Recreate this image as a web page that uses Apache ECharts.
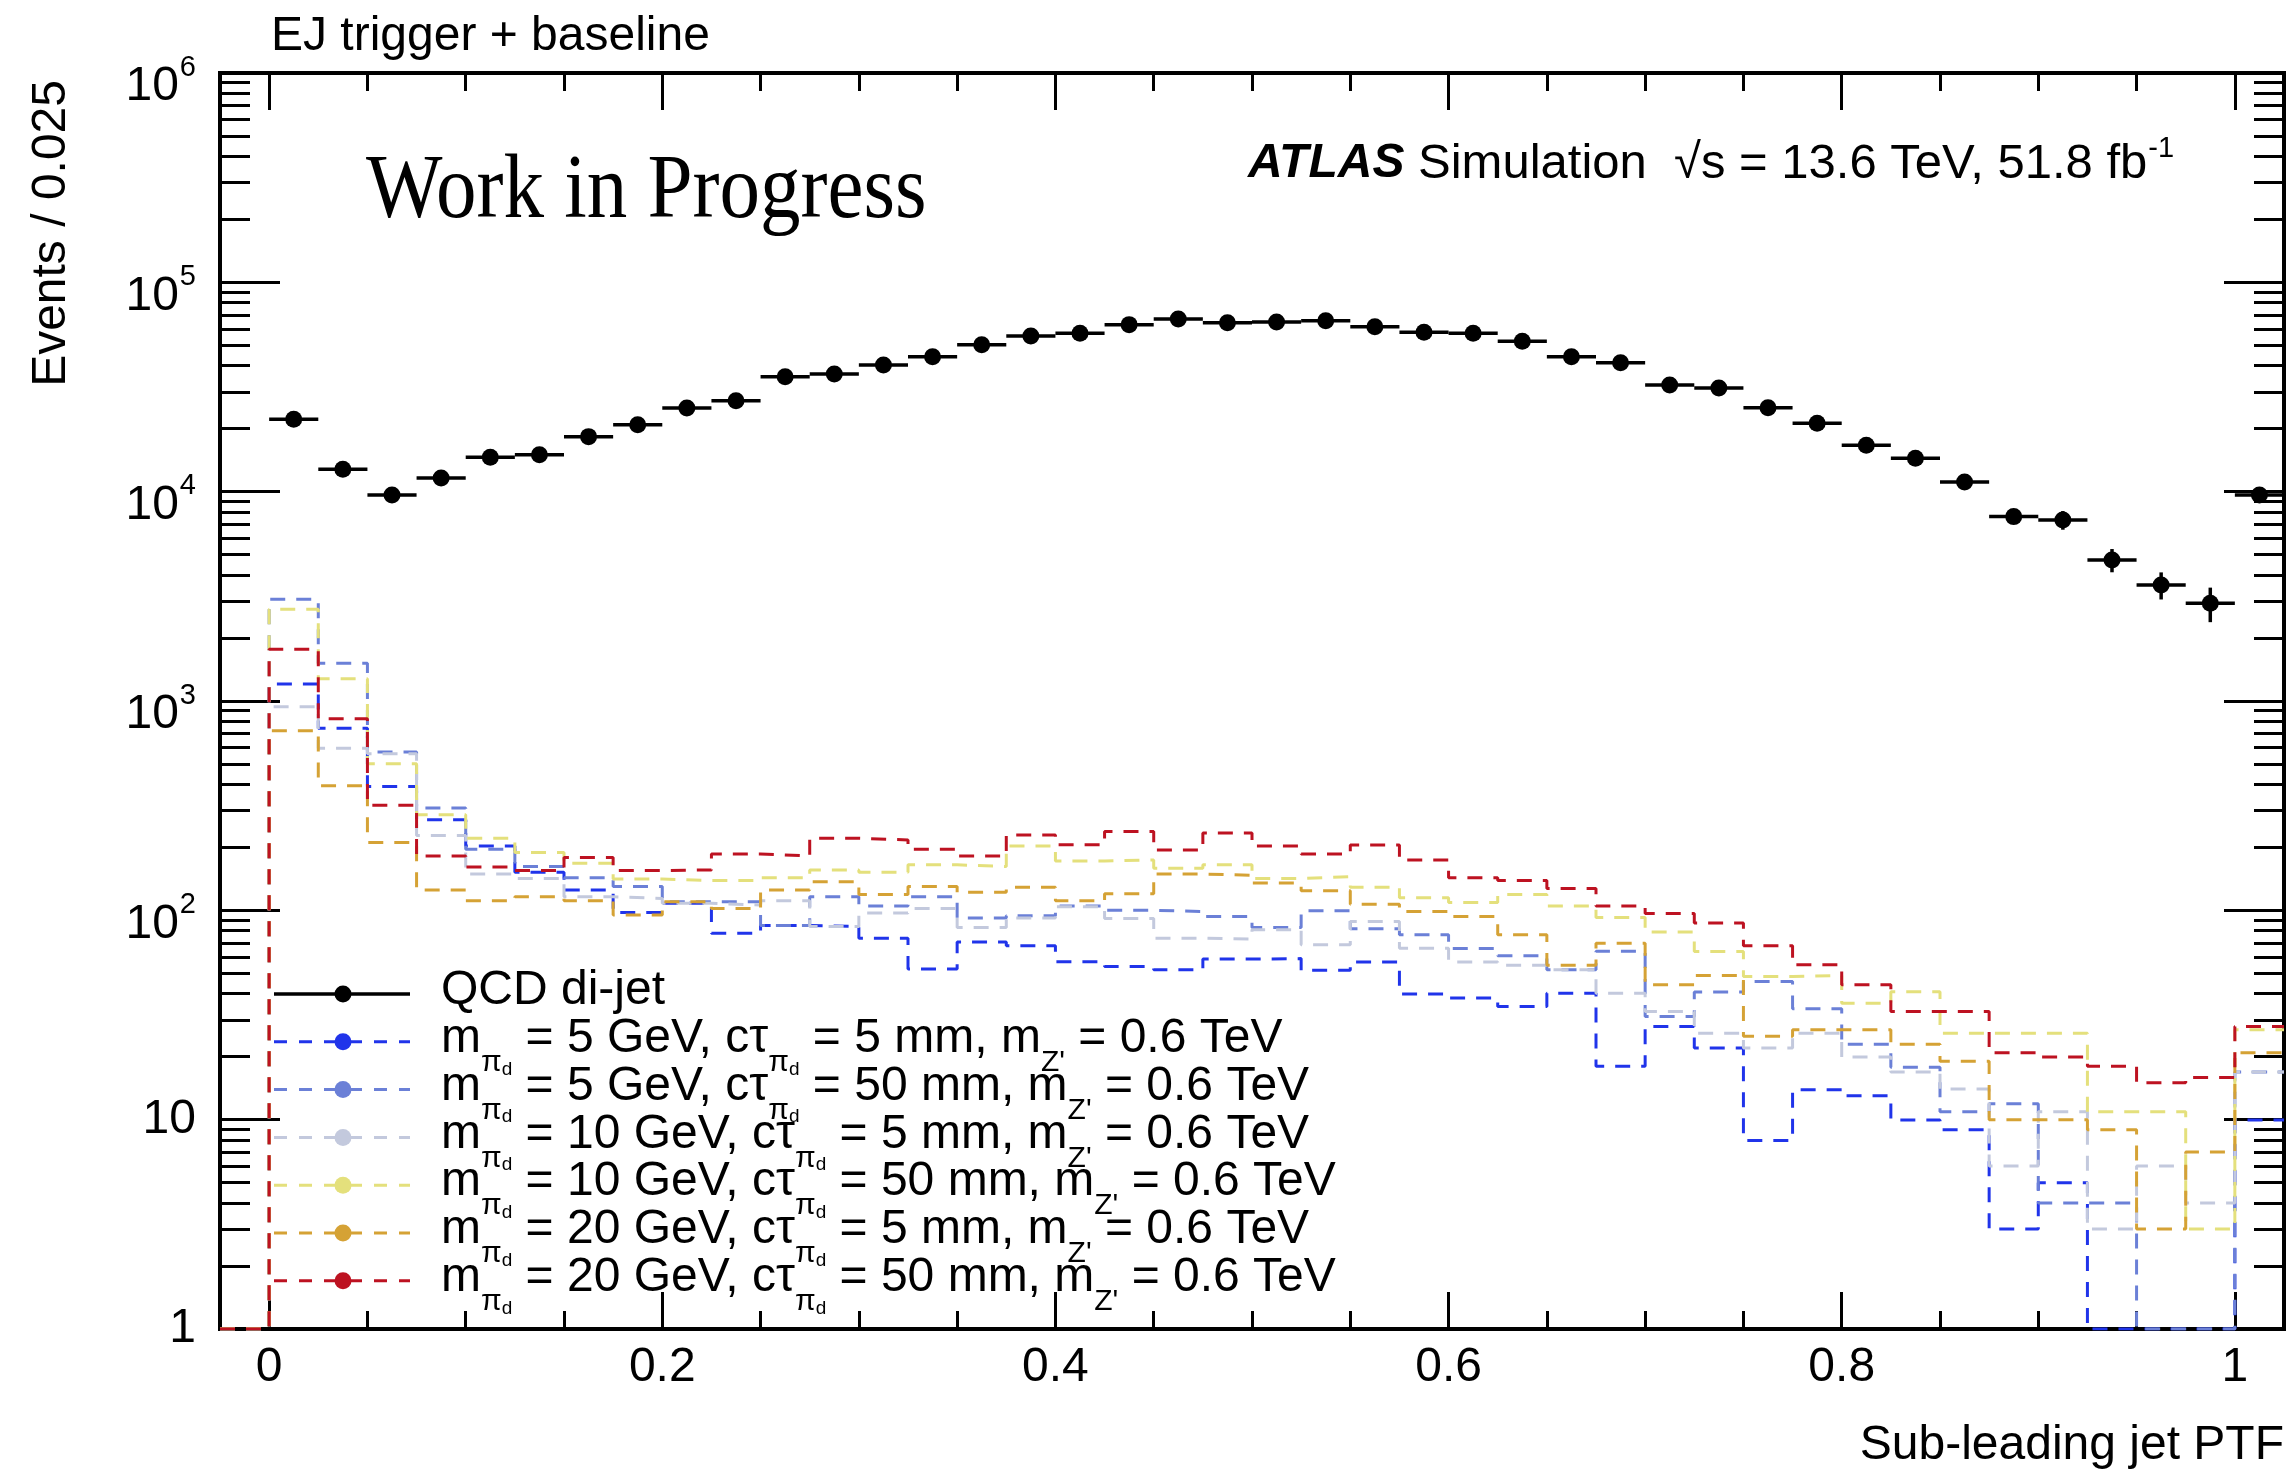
<!DOCTYPE html>
<html><head><meta charset="utf-8">
<script src="https://cdn.jsdelivr.net/npm/echarts@6/dist/echarts.min.js"></script>
<style>html,body{margin:0;padding:0;background:#fff}#c{width:2290px;height:1469px}</style>
</head><body><div id="c"></div>
<script>
// ---------------- DATA ----------------
const binWidth = 0.025;
const binLowEdges = [-0.025, 0, 0.025, 0.05, 0.075, 0.1, 0.125, 0.15, 0.175, 0.2, 0.225, 0.25, 0.275, 0.3, 0.325, 0.35, 0.375, 0.4, 0.425, 0.45, 0.475, 0.5, 0.525, 0.55, 0.575, 0.6, 0.625, 0.65, 0.675, 0.7, 0.725, 0.75, 0.775, 0.8, 0.825, 0.85, 0.875, 0.9, 0.925, 0.95, 0.975, 1.0];

const qcdValues = [0, 22180, 12790, 9640, 11620, 14590, 15020, 18320, 20890, 25100, 27200, 35400, 36500, 40300, 44150, 50380, 55440, 57060, 62800, 66800, 64150, 64600, 65600, 61400, 57700, 57060, 52250, 44150, 41300, 32350, 31280, 25180, 21220, 16660, 14440, 11130, 7600, 7330, 4720, 3585, 2930, 9640];
const qcdErrors = [0, 600, 450, 380, 400, 450, 450, 500, 520, 600, 620, 750, 750, 800, 850, 900, 950, 950, 1000, 1050, 1000, 1000, 1000, 1000, 950, 950, 900, 850, 800, 750, 720, 650, 600, 550, 520, 480, 500, 750, 600, 530, 550, 700];

const sigBlue    = [0, 1207, 741, 390, 271, 203, 152, 125, 97.6, 108, 77.8, 84.6, 83.7, 73.6, 52.4, 70.5, 67.7, 56.8, 53.9, 52, 58.5, 58.8, 51.8, 56.6, 39.8, 38.1, 34.7, 40.2, 18, 27.9, 22, 7.96, 13.9, 13, 9.96, 8.95, 3.0, 5.0, 0, 0, 0, 9.96];
const sigMedBlue = [0, 3063, 1515, 571, 308, 196, 162, 143, 130, 110, 110, 84.6, 116, 105, 116, 91.8, 94.1, 105, 100, 98.7, 93.4, 82.8, 99.5, 81.6, 76.4, 65.7, 60.6, 52, 63.8, 31.1, 40.7, 45.7, 33.9, 22.9, 17.8, 10.9, 11.9, 4.0, 4.0, 0, 0, 16.9];
const sigGray    = [0, 940, 595, 560, 228, 149, 142, 116, 114, 108, 106, 111, 83.7, 97, 102, 82.8, 91.8, 104, 91.5, 73.6, 72.8, 80.7, 68.4, 88.4, 65.9, 56.6, 54.7, 52, 40.2, 32.9, 25.9, 22, 25.9, 19.9, 16.9, 14, 6.0, 10.9, 3.0, 6.0, 4.0, 16.9];
const sigYellow  = [0, 2744, 1276, 502, 286, 221, 189, 168, 141, 139, 139, 143, 156, 152, 165, 162, 203, 172, 174, 159, 165, 142, 145, 129, 115, 109, 119, 105, 92.4, 78.7, 63.6, 48.3, 48.8, 36, 40.8, 25.9, 25.9, 25.9, 10.9, 10.9, 3.0, 26.9];
const sigGold    = [0, 720, 394, 211, 125, 111, 116, 111, 95, 110, 102, 125, 137, 119, 130, 122, 129, 111, 120, 149, 147, 135, 124, 107, 98.7, 93.4, 76.4, 54.7, 69.7, 44.1, 48.8, 25, 26.9, 26.9, 22.9, 19, 10, 10, 8.95, 3.0, 7.0, 20.9];
const sigRed     = [0, 1767, 822, 318, 182, 161, 155, 179, 155, 156, 186, 182, 221, 217, 196, 182, 229, 206, 238, 194, 234, 203, 186, 205, 174, 143, 139, 127, 105, 96.6, 86.9, 67.7, 54.9, 44.1, 32.9, 32.9, 20.9, 19.9, 18, 15, 15.9, 27.9];

const signalMass = [5, 5, 10, 10, 20, 20];      // GeV
const signalCtau = [5, 50, 5, 50, 5, 50];       // mm
const zPrimeMass = 0.6;                          // TeV
const signalColors = ['#2034ea', '#6b80d7', '#c3c9dd', '#e4e07c', '#d5a235', '#bd1221'];

const xMajorTicks = [0, 0.2, 0.4, 0.6, 0.8, 1];
const xTickLabels = ['0', '0.2', '0.4', '0.6', '0.8', '1'];
const xMinorTicks = [0.05, 0.1, 0.15, 0.25, 0.3, 0.35, 0.45, 0.5, 0.55, 0.65, 0.7, 0.75, 0.85, 0.9, 0.95];
const yTickValues = [1, 10, 100, 1000, 10000, 100000, 1000000];
const yTickLabels = ['1', '10', '10^2', '10^3', '10^4', '10^5', '10^6'];
const yMinorTicks = [2,3,4,5,6,7,8,9, 20,30,40,50,60,70,80,90, 200,300,400,500,600,700,800,900,
  2000,3000,4000,5000,6000,7000,8000,9000, 20000,30000,40000,50000,60000,70000,80000,90000,
  200000,300000,400000,500000,600000,700000,800000,900000];

// ---------------- BUILD ----------------
const FONT = '"Liberation Sans", Arial, Helvetica, sans-serif';
const xMin = -0.025, xMax = 1.025, yMin = 1, yMax = 1e6;
const signalValues = [sigBlue, sigMedBlue, sigGray, sigYellow, sigGold, sigRed];

function stepData(vals) {
  const d = binLowEdges.map((x, i) => [x, Math.max(vals[i], yMin)]);
  d.push([binLowEdges[binLowEdges.length - 1] + binWidth, Math.max(vals[vals.length - 1], yMin)]);
  return d;
}
function signalLabel(i) {
  return '{t|m}{s|π}{ss|d}{t| = ' + signalMass[i] + ' GeV, cτ}{s|π}{ss|d}{t| = ' + signalCtau[i] +
    ' mm, m}{s|Z\'}{t| = ' + zPrimeMass + ' TeV}';
}
const legendLabels = ['{t|QCD di-jet}'].concat(signalMass.map((m, i) => signalLabel(i)));

const chart = echarts.init(document.getElementById('c'), null, {renderer: 'canvas', width: 2290, height: 1469});

const lineBlack = {color: '#000', width: 4, cap: 'square'};
const tickBlack = {color: '#000', width: 3};
function xAx(pos, ticks, len, showLine, showLabel) {
  return {
    type: 'value', min: xMin, max: xMax, position: pos,
    axisLine: {show: showLine, onZero: false, lineStyle: lineBlack},
    axisTick: {show: true, inside: true, length: len, customValues: ticks, lineStyle: tickBlack},
    axisLabel: showLabel ? {
      show: true, customValues: ticks, fontSize: 48, fontFamily: FONT, color: '#000', margin: 15,
      formatter: function (v) {
        for (let i = 0; i < xMajorTicks.length; i++) if (Math.abs(xMajorTicks[i] - v) < 1e-9) return xTickLabels[i];
        return '';
      }
    } : {show: false},
    splitLine: {show: false}
  };
}
function yAx(pos, ticks, len, showLine, showLabel) {
  return {
    type: 'log', logBase: 10, min: yMin, max: yMax, position: pos,
    axisLine: {show: showLine, onZero: false, lineStyle: lineBlack},
    axisTick: {show: true, inside: true, length: len, customValues: ticks, lineStyle: tickBlack},
    axisLabel: showLabel ? {
      show: true, customValues: ticks, fontSize: 48, fontFamily: FONT, color: '#000', margin: 24,
      formatter: function (v) {
        for (let i = 0; i < yTickValues.length; i++) {
          if (Math.abs(yTickValues[i] - v) / yTickValues[i] < 1e-6) {
            const s = yTickLabels[i];
            if (s.indexOf('^') >= 0) { const p = s.split('^'); return '{b|' + p[0] + '}{e|' + p[1] + '}'; }
            return s;
          }
        }
        return '';
      },
      rich: {
        b: {fontSize: 48, fontFamily: FONT, color: '#000', lineHeight: 48, padding: [14, 0, 0, 0], verticalAlign: 'top'},
        e: {fontSize: 29, fontFamily: FONT, color: '#000', lineHeight: 29, padding: [4, 0, 0, 1], verticalAlign: 'top'}
      }
    } : {show: false},
    splitLine: {show: false}
  };
}

const series = signalValues.map((vals, i) => ({
  type: 'line', name: 'sig' + i, data: stepData(vals), step: 'end',
  xAxisIndex: 0, yAxisIndex: 0, symbol: 'none', showSymbol: false, clip: true,
  lineStyle: {color: signalColors[i], width: 3, type: [15, 11]},
  z: 2 + i, animation: false, silent: true
}));

const qcdData = binLowEdges.map((x, i) => [x + binWidth / 2, qcdValues[i], qcdErrors[i]]).filter(d => d[1] > 0);
series.push({
  type: 'custom', name: 'QCD di-jet', xAxisIndex: 0, yAxisIndex: 0, clip: true, z: 20, animation: false,
  data: qcdData, encode: {x: 0, y: 1},
  renderItem: function (params, api) {
    const x = api.value(0), y = api.value(1), e = api.value(2);
    const pc = api.coord([x, y]);
    const pl = api.coord([x - binWidth / 2, y]);
    const pr = api.coord([x + binWidth / 2, y]);
    const pu = api.coord([x, y + e]);
    const pd = api.coord([x, Math.max(y - e, yMin)]);
    return {type: 'group', children: [
      {type: 'line', shape: {x1: pl[0], y1: pl[1], x2: pr[0], y2: pr[1]}, style: {stroke: '#000', lineWidth: 3.5}},
      {type: 'line', shape: {x1: pu[0], y1: pu[1], x2: pd[0], y2: pd[1]}, style: {stroke: '#000', lineWidth: 3.5}},
      {type: 'circle', shape: {cx: pc[0], cy: pc[1], r: 8.5}, style: {fill: '#000'}}
    ]};
  }
});

// legend + texts as graphic elements
const legRich = {
  t: {fontSize: 48, fontFamily: FONT, color: '#000', lineHeight: 48, verticalAlign: 'top', padding: [0, 0, 0, 0]},
  s: {fontSize: 30, fontFamily: FONT, color: '#000', lineHeight: 30, verticalAlign: 'top', padding: [33, 0, 0, 0]},
  ss: {fontSize: 19, fontFamily: FONT, color: '#000', lineHeight: 19, verticalAlign: 'top', padding: [45, 0, 0, 0]}
};
const graphics = [];
const legX0 = 274, legX1 = 410, legMarkX = 343, legTextX = 441, legY0 = 994, legDY = 47.8;
legendLabels.forEach((lab, k) => {
  const y = legY0 + k * legDY;
  const col = k === 0 ? '#000' : signalColors[k - 1];
  graphics.push({type: 'line', z: 50, shape: {x1: legX0, y1: y, x2: legX1, y2: y},
    style: k === 0 ? {stroke: col, lineWidth: 3.5} : {stroke: col, lineWidth: 3, lineDash: [13, 12]}});
  graphics.push({type: 'circle', z: 51, shape: {cx: legMarkX, cy: y, r: 8.5}, style: {fill: col}});
  graphics.push({type: 'text', z: 52, x: legTextX, y: y - 3 - 24,
    style: {text: lab, rich: legRich, verticalAlign: 'top', align: 'left'}});
});
graphics.push({type: 'text', z: 52, x: 271, y: 37,
  style: {text: 'EJ trigger + baseline', font: '48px ' + FONT, fill: '#000', verticalAlign: 'middle'}});
graphics.push({type: 'text', z: 52, x: 366, y: 193, scaleX: 0.9,
  style: {text: 'Work in Progress', font: '90px "Liberation Serif", "Times New Roman", serif', fill: '#000', verticalAlign: 'middle'}});
graphics.push({type: 'text', z: 52, x: 1248, y: 134,
  style: {text: '{a|ATLAS}{t| Simulation  √s = 13.6 TeV, 51.8 fb}{p|-1}', verticalAlign: 'top',
    rich: {
      a: {fontSize: 48, fontFamily: FONT, fontWeight: 'bold', fontStyle: 'italic', color: '#000', lineHeight: 48, verticalAlign: 'top', padding: [6, 0, 0, 0]},
      t: {fontSize: 49, fontFamily: FONT, color: '#000', lineHeight: 48, verticalAlign: 'top', padding: [6, 0, 0, 0]},
      p: {fontSize: 29, fontFamily: FONT, color: '#000', lineHeight: 29, verticalAlign: 'top', padding: [0, 0, 0, 1]}
    }}});
graphics.push({type: 'text', z: 52, x: 2284, y: 1446,
  style: {text: 'Sub-leading jet PTF', font: '48px ' + FONT, fill: '#000', align: 'right', verticalAlign: 'middle'}});
graphics.push({type: 'text', z: 52, x: 52, y: 80, rotation: Math.PI / 2,
  style: {text: 'Events / 0.025', font: '48px ' + FONT, fill: '#000', align: 'right', verticalAlign: 'middle'}});

chart.setOption({
  backgroundColor: '#fff',
  animation: false,
  grid: {left: 220, right: 6, top: 73, bottom: 140, containLabel: false},
  xAxis: [
    xAx('bottom', xMajorTicks, 37, true, true),
    xAx('bottom', xMinorTicks, 18, false, false),
    xAx('top', xMajorTicks, 37, true, false),
    xAx('top', xMinorTicks, 18, false, false)
  ],
  yAxis: [
    yAx('left', yTickValues, 60, true, true),
    yAx('left', yMinorTicks, 30, false, false),
    yAx('right', yTickValues, 60, true, false),
    yAx('right', yMinorTicks, 30, false, false)
  ],
  series: series,
  graphic: graphics
});
</script>
</body></html>
